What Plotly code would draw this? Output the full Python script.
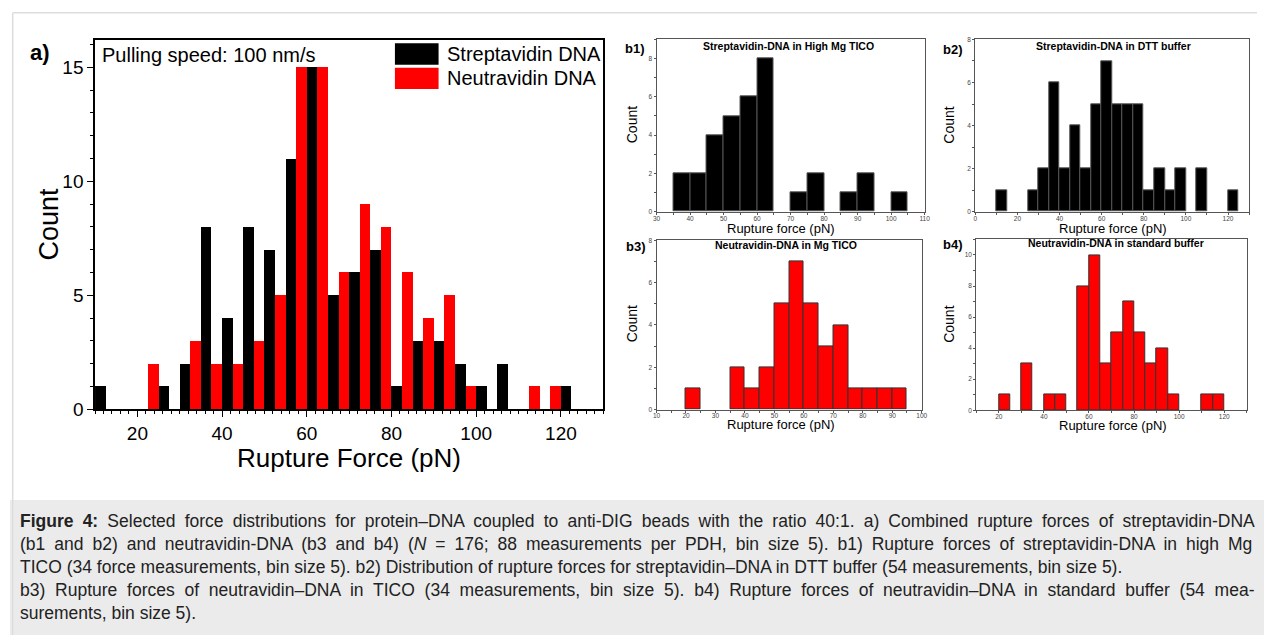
import plotly.graph_objects as go

# page is 1272x643; body keeps its default 8px margin, so the figure is 16px smaller
W, H = 1256, 627
OFF = 8

# ---------------- data ----------------
# Panel a: combined histogram, bin start (pN), bin size 5
a_bins = [10, 15, 20, 25, 30, 35, 40, 45, 50, 55, 60, 65, 70, 75, 80, 85, 90, 95, 100, 105, 110, 115, 120]
a_strept = [1, 0, 0, 1, 2, 8, 4, 8, 7, 11, 15, 5, 6, 7, 1, 3, 3, 2, 1, 2, 0, 0, 1]
a_neutr = [0, 0, 2, 0, 3, 2, 2, 3, 5, 15, 15, 6, 9, 8, 6, 4, 5, 1, 0, 0, 1, 1, 0]

# b1: Streptavidin-DNA in High Mg TICO
b1_bins = [35, 40, 45, 50, 55, 60, 65, 70, 75, 80, 85, 90, 95, 100]
b1_counts = [2, 2, 4, 5, 6, 8, 0, 1, 2, 0, 1, 2, 0, 1]

# b2: Streptavidin-DNA in DTT buffer
b2_bins = [10, 15, 20, 25, 30, 35, 40, 45, 50, 55, 60, 65, 70, 75, 80, 85, 90, 95, 100, 105, 110, 115, 120]
b2_counts = [1, 0, 0, 1, 2, 6, 2, 4, 2, 5, 7, 5, 5, 5, 1, 2, 1, 2, 0, 2, 0, 0, 1]

# b3: Neutravidin-DNA in Mg TICO
b3_bins = [20, 25, 30, 35, 40, 45, 50, 55, 60, 65, 70, 75, 80, 85, 90]
b3_counts = [1, 0, 0, 2, 1, 2, 5, 7, 5, 3, 4, 1, 1, 1, 1]

# b4: Neutravidin-DNA in standard buffer
b4_bins = [20, 25, 30, 35, 40, 45, 50, 55, 60, 65, 70, 75, 80, 85, 90, 95, 100, 105, 110, 115]
b4_counts = [1, 0, 3, 0, 1, 1, 0, 8, 10, 3, 5, 7, 5, 3, 4, 1, 0, 0, 1, 1]

series_names = ["Streptavidin DNA", "Neutravidin DNA"]
sub_titles = ["Streptavidin-DNA in High Mg TICO", "Streptavidin-DNA in DTT buffer",
              "Neutravidin-DNA in Mg TICO", "Neutravidin-DNA in standard buffer"]
sub_labels = ["b1)", "b2)", "b3)", "b4)"]

FONT = "Liberation Sans, Arial, sans-serif"
BLACK = "#000000"
RED = "#ff0000"


def px_x(p):
    return (p - OFF) / W


def px_y(p):
    return 1 - (p - OFF) / H


fig = go.Figure()

# Panel a
fig.add_trace(go.Bar(x=a_bins, y=a_strept, width=2.5, offset=0, marker=dict(color=BLACK, line=dict(width=0)),
                     name=series_names[0], xaxis="x", yaxis="y", showlegend=False))
fig.add_trace(go.Bar(x=a_bins, y=a_neutr, width=2.5, offset=2.5, marker=dict(color=RED, line=dict(width=0)),
                     name=series_names[1], xaxis="x", yaxis="y", showlegend=False))


def nz(bins, counts):
    b = [x for x, c in zip(bins, counts) if c > 0]
    c = [c for c in counts if c > 0]
    return b, c


subs = [(b1_bins, b1_counts, BLACK, "#555555", "x2", "y2"),
        (b2_bins, b2_counts, BLACK, "#555555", "x3", "y3"),
        (b3_bins, b3_counts, RED, "#333333", "x4", "y4"),
        (b4_bins, b4_counts, RED, "#333333", "x5", "y5")]
for bins, counts, col, lcol, xa, ya in subs:
    b, c = nz(bins, counts)
    fig.add_trace(go.Bar(x=b, y=c, width=5, offset=0, marker=dict(color=col, line=dict(color=lcol, width=1)),
                         xaxis=xa, yaxis=ya, showlegend=False))

# ---------- axes ----------
a_dom_x = [px_x(91.7), px_x(604)]
a_dom_y = [px_y(415), px_y(36.7)]

main_ax = dict(showline=True, linecolor="black", linewidth=1.5, mirror=True, ticks="outside",
               ticklen=6, tickwidth=1.3, tickcolor="black", showgrid=False, zeroline=False,
               tickfont=dict(family=FONT, size=19, color="black"))

layout = dict(
    width=W, height=H, margin=dict(l=0, r=0, t=0, b=0),
    paper_bgcolor="white", plot_bgcolor="white", barmode="overlay", bargap=0,
    font=dict(family=FONT, color="black"),
    xaxis=dict(domain=a_dom_x, range=[10, 130], anchor="y", tick0=0, dtick=20,
               minor=dict(ticks="outside", ticklen=3, tickwidth=1, tickcolor="black", dtick=2, tick0=0),
               **main_ax),
    yaxis=dict(domain=a_dom_y, range=[0, 16.2], anchor="x", tick0=0, dtick=5,
               minor=dict(ticks="outside", ticklen=3, tickwidth=1, tickcolor="black", dtick=1, tick0=0),
               **main_ax),
)

sub_ax = dict(showline=True, linecolor="#555555", linewidth=1, mirror=True, ticks="outside",
              ticklen=2, tickwidth=1, tickcolor="#555555", showgrid=False, zeroline=False,
              tickfont=dict(family=FONT, size=6.5, color="#444444"))

sub_geo = [  # left, right, top, bottom (px), xrange, yrange, xdtick
    (657.7, 928, 36, 212.7, [30, 110], [0, 9], 10),
    (979, 1255, 36, 212.7, [0, 130], [0, 8], 20),
    (657.7, 925, 242, 415.3, [10, 100], [0, 8], 10),
    (980, 1252.7, 241, 416, [10, 130], [0, 11], 20),
]
for i, (l, r, t, b, xr, yr, xd) in enumerate(sub_geo):
    n = i + 2
    layout[f"xaxis{n}"] = dict(domain=[px_x(l), px_x(r)], range=xr, anchor=f"y{n}", tick0=0, dtick=xd,
                               ticklabelstandoff=-2,
                               minor=dict(ticks="outside", ticklen=2, tickcolor="#555555", dtick=xd / 2, tick0=0),
                               **sub_ax)
    layout[f"yaxis{n}"] = dict(domain=[px_y(b), px_y(t)], range=yr, anchor=f"x{n}", tick0=0, dtick=2,
                               ticklabelstandoff=0,
                               minor=dict(ticks="outside", ticklen=2, tickcolor="#555555", dtick=1, tick0=0),
                               **sub_ax)

fig.update_layout(**layout)

ann = []
shapes = []


def text(x, y, s, size, bold=False, xanchor="center", color="black", angle=0, yanchor="middle"):
    if bold:
        s = f"<b>{s}</b>"
    ann.append(dict(x=px_x(x), y=px_y(y), xref="paper", yref="paper", text=s, showarrow=False,
                    xanchor=xanchor, yanchor=yanchor, textangle=angle,
                    font=dict(family=FONT, size=size, color=color)))


# frame and caption background
shapes.append(dict(type="rect", xref="paper", yref="paper", x0=px_x(6), x1=px_x(1280), y0=px_y(650), y1=px_y(508),
                   fillcolor="#ebebeb", line=dict(width=0), layer="below"))
shapes.append(dict(type="line", xref="paper", yref="paper", x0=px_x(8.7), x1=px_x(1263), y0=px_y(8.7), y1=px_y(8.7),
                   line=dict(color="#dddddd", width=1.5)))
shapes.append(dict(type="line", xref="paper", yref="paper", x0=px_x(8.7), x1=px_x(8.7), y0=px_y(8.7), y1=px_y(650),
                   line=dict(color="#dddddd", width=1.5)))

# Panel a texts
text(36, 49, "a)", 22, bold=True)
text(45, 225, "Count", 27, angle=-90)
text(348, 465, "Rupture Force (pN)", 26)
text(97, 52, "Pulling speed: 100 nm/s", 20, xanchor="left")

# legend for panel a
for k, (col, yc) in enumerate([(BLACK, 51), (RED, 76)]):
    shapes.append(dict(type="rect", xref="paper", yref="paper", x0=px_x(394), x1=px_x(438),
                       y0=px_y(yc + 11), y1=px_y(yc - 11), fillcolor=col, line=dict(width=0)))
    text(444, yc, series_names[k], 20, xanchor="left")

# sub panel texts
sub_text_pos = [
    dict(lab=(636, 45), title=(791, 43), count=(633, 124), xt=(783, 229.5)),
    dict(lab=(957, 46), title=(1118, 43), count=(953, 124), xt=(1118, 229.5)),
    dict(lab=(637, 248), title=(788, 247), count=(633, 328), xt=(783, 431)),
    dict(lab=(957, 246), title=(1121, 245), count=(953, 328), xt=(1118, 432)),
]
for i, p in enumerate(sub_text_pos):
    text(*p["lab"], sub_labels[i], 13, bold=True)
    text(*p["title"], sub_titles[i], 10.5, bold=True)
    text(*p["count"], "Count", 14, angle=-90)
    text(*p["xt"], "Rupture force (pN)", 13)

# caption (lines 1, 2, 4 justified in the source page)
cap_lines = [
    "<b>Figure 4:</b> Selected force distributions for protein–DNA coupled to anti-DIG beads with the ratio 40:1. a) Combined rupture forces of streptavidin-DNA",
    "(b1 and b2) and neutravidin-DNA (b3 and b4) (<i>N</i> = 176; 88 measurements per PDH, bin size 5). b1) Rupture forces of streptavidin-DNA in high Mg",
    "TICO (34 force measurements, bin size 5). b2) Distribution of rupture forces for streptavidin–DNA in DTT buffer (54 measurements, bin size 5).",
    "b3) Rupture forces of neutravidin–DNA in TICO (34 measurements, bin size 5). b4) Rupture forces of neutravidin–DNA in standard buffer (54 mea-",
    "surements, bin size 5).",
]
cap_wordspace = [4.3, 4.1, 0, 4.9, 0]
cap_y = [529, 553, 577, 600, 624]
for s, yy, ws in zip(cap_lines, cap_y, cap_wordspace):
    if ws:
        s = f'<span style="word-spacing:{ws}px">{s}</span>'
    text(14, yy, s, 17.5, xanchor="left", color="#222222")

fig.update_layout(annotations=ann, shapes=shapes)
fig.write_html("out.html", config={"displayModeBar": False})
